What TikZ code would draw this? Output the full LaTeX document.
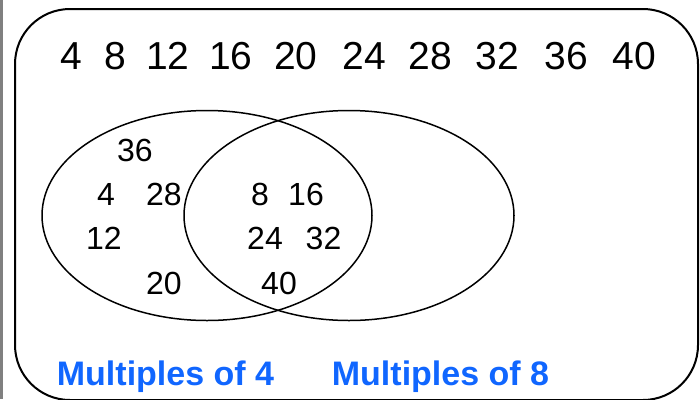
\documentclass[tikz,border=0pt]{standalone}
\usepackage{fontspec}
\setmainfont{Liberation Sans}
\usepackage{tikz}
\usetikzlibrary{shapes.geometric}
\definecolor{setblue}{RGB}{16,102,255}

\begin{document}
\begin{tikzpicture}[x=1pt, y=-1pt]
  \tikzset{setshape/.style={ellipse, draw, line width=1.5pt, minimum width=330pt, minimum height=210pt, inner sep=0pt},
           topnum/.style={inner sep=0pt, font=\fontsize{39}{39}\selectfont},
           num/.style={inner sep=0pt, font=\fontsize{32}{32}\selectfont},
           setlabel/.style={anchor=base, inner sep=0pt, text=setblue, font=\bfseries\fontsize{34}{34}\selectfont}}
  \useasboundingbox (0,0) rectangle (700,399);
  \draw[gray, line width=2.5pt] (1.25,0) -- (1.25,399);
  \draw[line width=2pt, rounded corners=55pt] (15,9) rectangle (698,400);
  % the two sets
  \node[setshape] (four) at (207,215.5) {};
  \node[setshape] (eight) at (349,215.5) {};
  % universal set
  \foreach \x/\n in {71/4, 115/8, 168/12, 231/16, 296/20, 364/24, 430/28, 497/32, 566/36, 634/40}
    \node[topnum] (top\n) at (\x,56) {\n};
  % only in multiples of 4
  \node[num] (in36) at (135,150) {36};
  \node[num] (in4) at (106,194) {4};
  \node[num] (in28) at (164,194) {28};
  \node[num] (in12) at (104,238) {12};
  \node[num] (in20) at (164,283.5) {20};
  % in both
  \node[num] (in8) at (260,194) {8};
  \node[num] (in16) at (306,194) {16};
  \node[num] (in24) at (265,238) {24};
  \node[num] (in32) at (323.5,238) {32};
  \node[num] (in40) at (279,283.5) {40};
  % labels
  \node[setlabel] (labfour) at (165.5,385) {Multiples of 4};
  \node[setlabel] (labeight) at (440.5,385) {Multiples of 8};
\end{tikzpicture}
\end{document}
